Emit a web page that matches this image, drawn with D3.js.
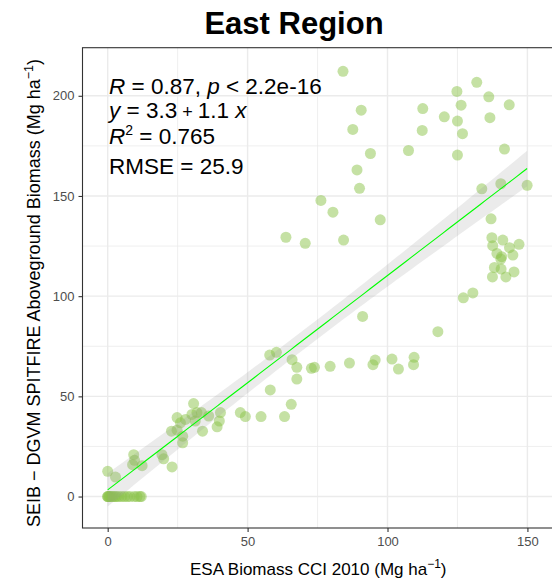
<!DOCTYPE html>
<html>
<head>
<meta charset="utf-8">
<script src="https://cdn.jsdelivr.net/npm/d3@7"></script>
<style>
  body { margin: 0; background: #fff; }
  svg { display: block; }
  text { font-family: "Liberation Sans", Arial, Helvetica, sans-serif; }
</style>
</head>
<body>
<svg id="chart" width="552" height="582"></svg>
<script>
// Paired site values: ESA CCI biomass (x) vs. SEIB-DGVM simulated biomass (y), Mg/ha
const esaBiomass = [
  0, 0, 0.3, 0.6, 1, 1.5, 2, 2.6, 3.2, 4, 5, 6, 7, 8, 9.5, 10.5, 11.5, 12,
  0, 2.8, 9.3, 9.6, 8.9, 12.3, 19.4, 20, 23, 22.8, 24.8, 26.8, 26.8, 26, 24.8, 27.8,
  30.1, 31.9, 33.5, 31.3, 30.7, 36.1, 40.3, 39.9, 39.1, 33.9, 47.4, 49.2, 54.8, 63.2, 65.6,
  57.9, 60.3, 65.9, 67.6, 72.8, 73.9, 79.5, 86.4, 94.8, 95.6, 101.6, 103.9, 109.5, 109.3,
  67.6, 58.1, 91.1, 118,
  84.1, 90.6, 87.6, 112.6, 112.4, 107.5, 93.9, 89.1, 90, 76.2, 80.5, 97.4, 63.7, 70.6, 84.3,
  131.9, 124.8, 136.2, 126.3, 143.5, 120.3, 125, 136.6, 126.8, 125, 141.8, 133.7, 140.5, 149.9,
  137, 137.3, 141.2, 147, 137.6, 143.6, 139.1, 140.8, 144.8, 140.5, 138.2, 140.6, 145.2,
  137.5, 142.3, 130.5, 127.1
];
const seibBiomass = [
  0, 0, 0, 0, 0, 0, 0, 0, 0, 0, 0, 0, 0, 0, 0, 0, 0, 0,
  12.6, 9.7, 20.9, 18.1, 15.9, 15.4, 20.9, 18.8, 14.8, 32.6, 33.1, 30.1, 26.8, 36.8, 39.4, 38.5,
  41, 41.9, 41.9, 37.7, 46.4, 40.2, 41.9, 37.7, 34.8, 32.6, 41.9, 39.9, 39.9, 39.9, 46,
  70.6, 72, 68.3, 64.5, 64, 64.5, 65, 66.6, 65.8, 68.1, 68.6, 63.6, 69.5, 65.8,
  58.6, 53.2, 89.9, 82.3,
  212.2, 192.8, 183.2, 193.6, 182.7, 172.7, 171.2, 163, 153.8, 147.8, 141.9, 138.1, 129.4, 126.4, 128,
  206.7, 202.2, 199.5, 195.3, 195.5, 189.5, 187.4, 189.1, 181.1, 170.4, 173.4, 153.6, 156.1, 155.3,
  138.6, 129.2, 128, 125.9, 125.2, 124.2, 121.3, 119.7, 120.5, 118.5, 114.3, 113.5, 112.1,
  109.6, 109.6, 101.6, 99.2
];

// Axis ticks
const xTicks = [0, 50, 100, 150];
const xMinorTicks = [25, 75, 125];
const yTicks = [0, 50, 100, 150, 200];
const yMinorTicks = [25, 75, 125, 175];

// Linear fit statistics
const fitIntercept = 3.3;
const fitSlope = 1.07;
const fitR = 0.87;
const fitPLabel = "2.2e-16";
const fitR2 = 0.765;
const fitRMSE = 25.9;

const titleText = "East Region";

const svg = d3.select("#chart");
const panel = { left: 82.5, right: 554, top: 47.7, bottom: 528 };

const x = d3.scaleLinear().domain([-9.0, 159.5]).range([panel.left, panel.right]);
const y = d3.scaleLinear().domain([-15.7, 224.0]).range([panel.bottom, panel.top]);

// panel background
svg.append("rect")
  .attr("x", panel.left).attr("y", panel.top)
  .attr("width", panel.right - panel.left).attr("height", panel.bottom - panel.top)
  .attr("fill", "#fff");

svg.append("defs").append("clipPath").attr("id", "panel-clip")
  .append("rect")
  .attr("x", panel.left).attr("y", panel.top)
  .attr("width", panel.right - panel.left).attr("height", panel.bottom - panel.top);

// grid
const grid = svg.append("g");
grid.selectAll(".xminor").data(xMinorTicks).join("line")
  .attr("x1", d => x(d)).attr("x2", d => x(d))
  .attr("y1", panel.top).attr("y2", panel.bottom)
  .attr("stroke", "#ebebeb").attr("stroke-width", 0.8);
grid.selectAll(".yminor").data(yMinorTicks).join("line")
  .attr("y1", d => y(d)).attr("y2", d => y(d))
  .attr("x1", panel.left).attr("x2", panel.right)
  .attr("stroke", "#ebebeb").attr("stroke-width", 0.8);
grid.selectAll(".xmajor").data(xTicks).join("line")
  .attr("x1", d => x(d)).attr("x2", d => x(d))
  .attr("y1", panel.top).attr("y2", panel.bottom)
  .attr("stroke", "#ebebeb").attr("stroke-width", 1.4);
grid.selectAll(".ymajor").data(yTicks).join("line")
  .attr("y1", d => y(d)).attr("y2", d => y(d))
  .attr("x1", panel.left).attr("x2", panel.right)
  .attr("stroke", "#ebebeb").attr("stroke-width", 1.4);

const plot = svg.append("g").attr("clip-path", "url(#panel-clip)");

// points
const pts = esaBiomass.map((v, i) => ({ x: v, y: seibBiomass[i] }));
plot.append("g").selectAll("circle").data(pts).join("circle")
  .attr("cx", d => x(d.x)).attr("cy", d => y(d.y)).attr("r", 5.5)
  .attr("fill", "#8bc34a").attr("fill-opacity", 0.5);

// 95% confidence band of the fitted line
const n = pts.length;
const xbar = d3.mean(esaBiomass);
const sxx = d3.sum(esaBiomass, v => (v - xbar) * (v - xbar));
const tCrit = 1.98;
const [xMin, xMax] = d3.extent(esaBiomass);
const fitX = d3.range(0, 81).map(i => xMin + (xMax - xMin) * i / 80);
const band = fitX.map(v => {
  const yh = fitIntercept + fitSlope * v;
  const se = fitRMSE * Math.sqrt(1 / n + (v - xbar) * (v - xbar) / sxx);
  return { x: v, y: yh, lo: yh - tCrit * se, hi: yh + tCrit * se };
});
plot.append("path").datum(band)
  .attr("d", d3.area().x(d => x(d.x)).y0(d => y(d.lo)).y1(d => y(d.hi)))
  .attr("fill", "#999").attr("fill-opacity", 0.2);
plot.append("path").datum(band)
  .attr("d", d3.line().x(d => x(d.x)).y(d => y(d.y)))
  .attr("fill", "none").attr("stroke", "#00ff00").attr("stroke-width", 1.1);

// panel border
svg.append("rect")
  .attr("x", panel.left).attr("y", panel.top)
  .attr("width", panel.right - panel.left).attr("height", panel.bottom - panel.top)
  .attr("fill", "none").attr("stroke", "#333").attr("stroke-width", 1.1);

// axes
const xAxis = svg.append("g").attr("transform", `translate(0,${panel.bottom})`)
  .call(d3.axisBottom(x).tickValues(xTicks).tickSize(4).tickPadding(5).tickFormat(d3.format("d")));
const yAxis = svg.append("g").attr("transform", `translate(${panel.left},0)`)
  .call(d3.axisLeft(y).tickValues(yTicks).tickSize(4).tickPadding(4).tickFormat(d3.format("d")));
[xAxis, yAxis].forEach(a => {
  a.select(".domain").remove();
  a.selectAll(".tick line").attr("stroke", "#333").attr("stroke-width", 1.1);
  a.selectAll(".tick text").attr("fill", "#4d4d4d").attr("font-size", 13)
    .attr("font-family", "'Liberation Sans', Arial, sans-serif");
});

// title
svg.append("text")
  .attr("x", 294).attr("y", 34).attr("text-anchor", "middle")
  .attr("font-size", 31).attr("font-weight", "bold").attr("fill", "#000")
  .text(titleText);

// axis titles
const xLab = svg.append("text")
  .attr("x", (panel.left + 554) / 2).attr("y", 575).attr("text-anchor", "middle")
  .attr("font-size", 17).attr("fill", "#000");
xLab.append("tspan").text("ESA Biomass CCI 2010 (Mg ha");
xLab.append("tspan").attr("font-size", 12).attr("dy", -7).text("\u22121");
xLab.append("tspan").attr("dy", 7).text(")");

const yLab = svg.append("text")
  .attr("transform", `translate(40,293) rotate(-90)`)
  .attr("text-anchor", "middle").attr("font-size", 18).attr("fill", "#000");
yLab.append("tspan").text("SEIB \u2212 DGVM SPITFIRE Aboveground Biomass (Mg ha");
yLab.append("tspan").attr("font-size", 12.5).attr("dy", -7.5).text("\u22121");
yLab.append("tspan").attr("dy", 7.5).text(")");

// fit annotation
const fmt1 = d3.format(".1f");
const ann = svg.append("g").attr("font-size", 22.5).attr("fill", "#000");
const l1 = ann.append("text").attr("x", 109).attr("y", 94.3);
l1.append("tspan").attr("font-style", "italic").text("R");
l1.append("tspan").text(` = ${d3.format(".2f")(fitR)}, `);
l1.append("tspan").attr("font-style", "italic").text("p");
l1.append("tspan").text(` < ${fitPLabel}`);

const l2 = ann.append("text").attr("x", 109).attr("y", 117.5);
l2.append("tspan").attr("font-style", "italic").text("y");
l2.append("tspan").text(` = ${fmt1(fitIntercept)}`);
l2.append("tspan").attr("font-size", 18).text(" + ");
l2.append("tspan").text(`${fmt1(fitSlope)} `);
l2.append("tspan").attr("font-style", "italic").text("x");

const l3 = ann.append("text").attr("x", 109).attr("y", 144);
l3.append("tspan").attr("font-style", "italic").text("R");
l3.append("tspan").attr("font-size", 14).attr("dy", -9).text("2");
l3.append("tspan").attr("dy", 9).text(` = ${d3.format(".3f")(fitR2)}`);

ann.append("text").attr("x", 109).attr("y", 174).text(`RMSE = ${fmt1(fitRMSE)}`);
</script>
</body>
</html>
